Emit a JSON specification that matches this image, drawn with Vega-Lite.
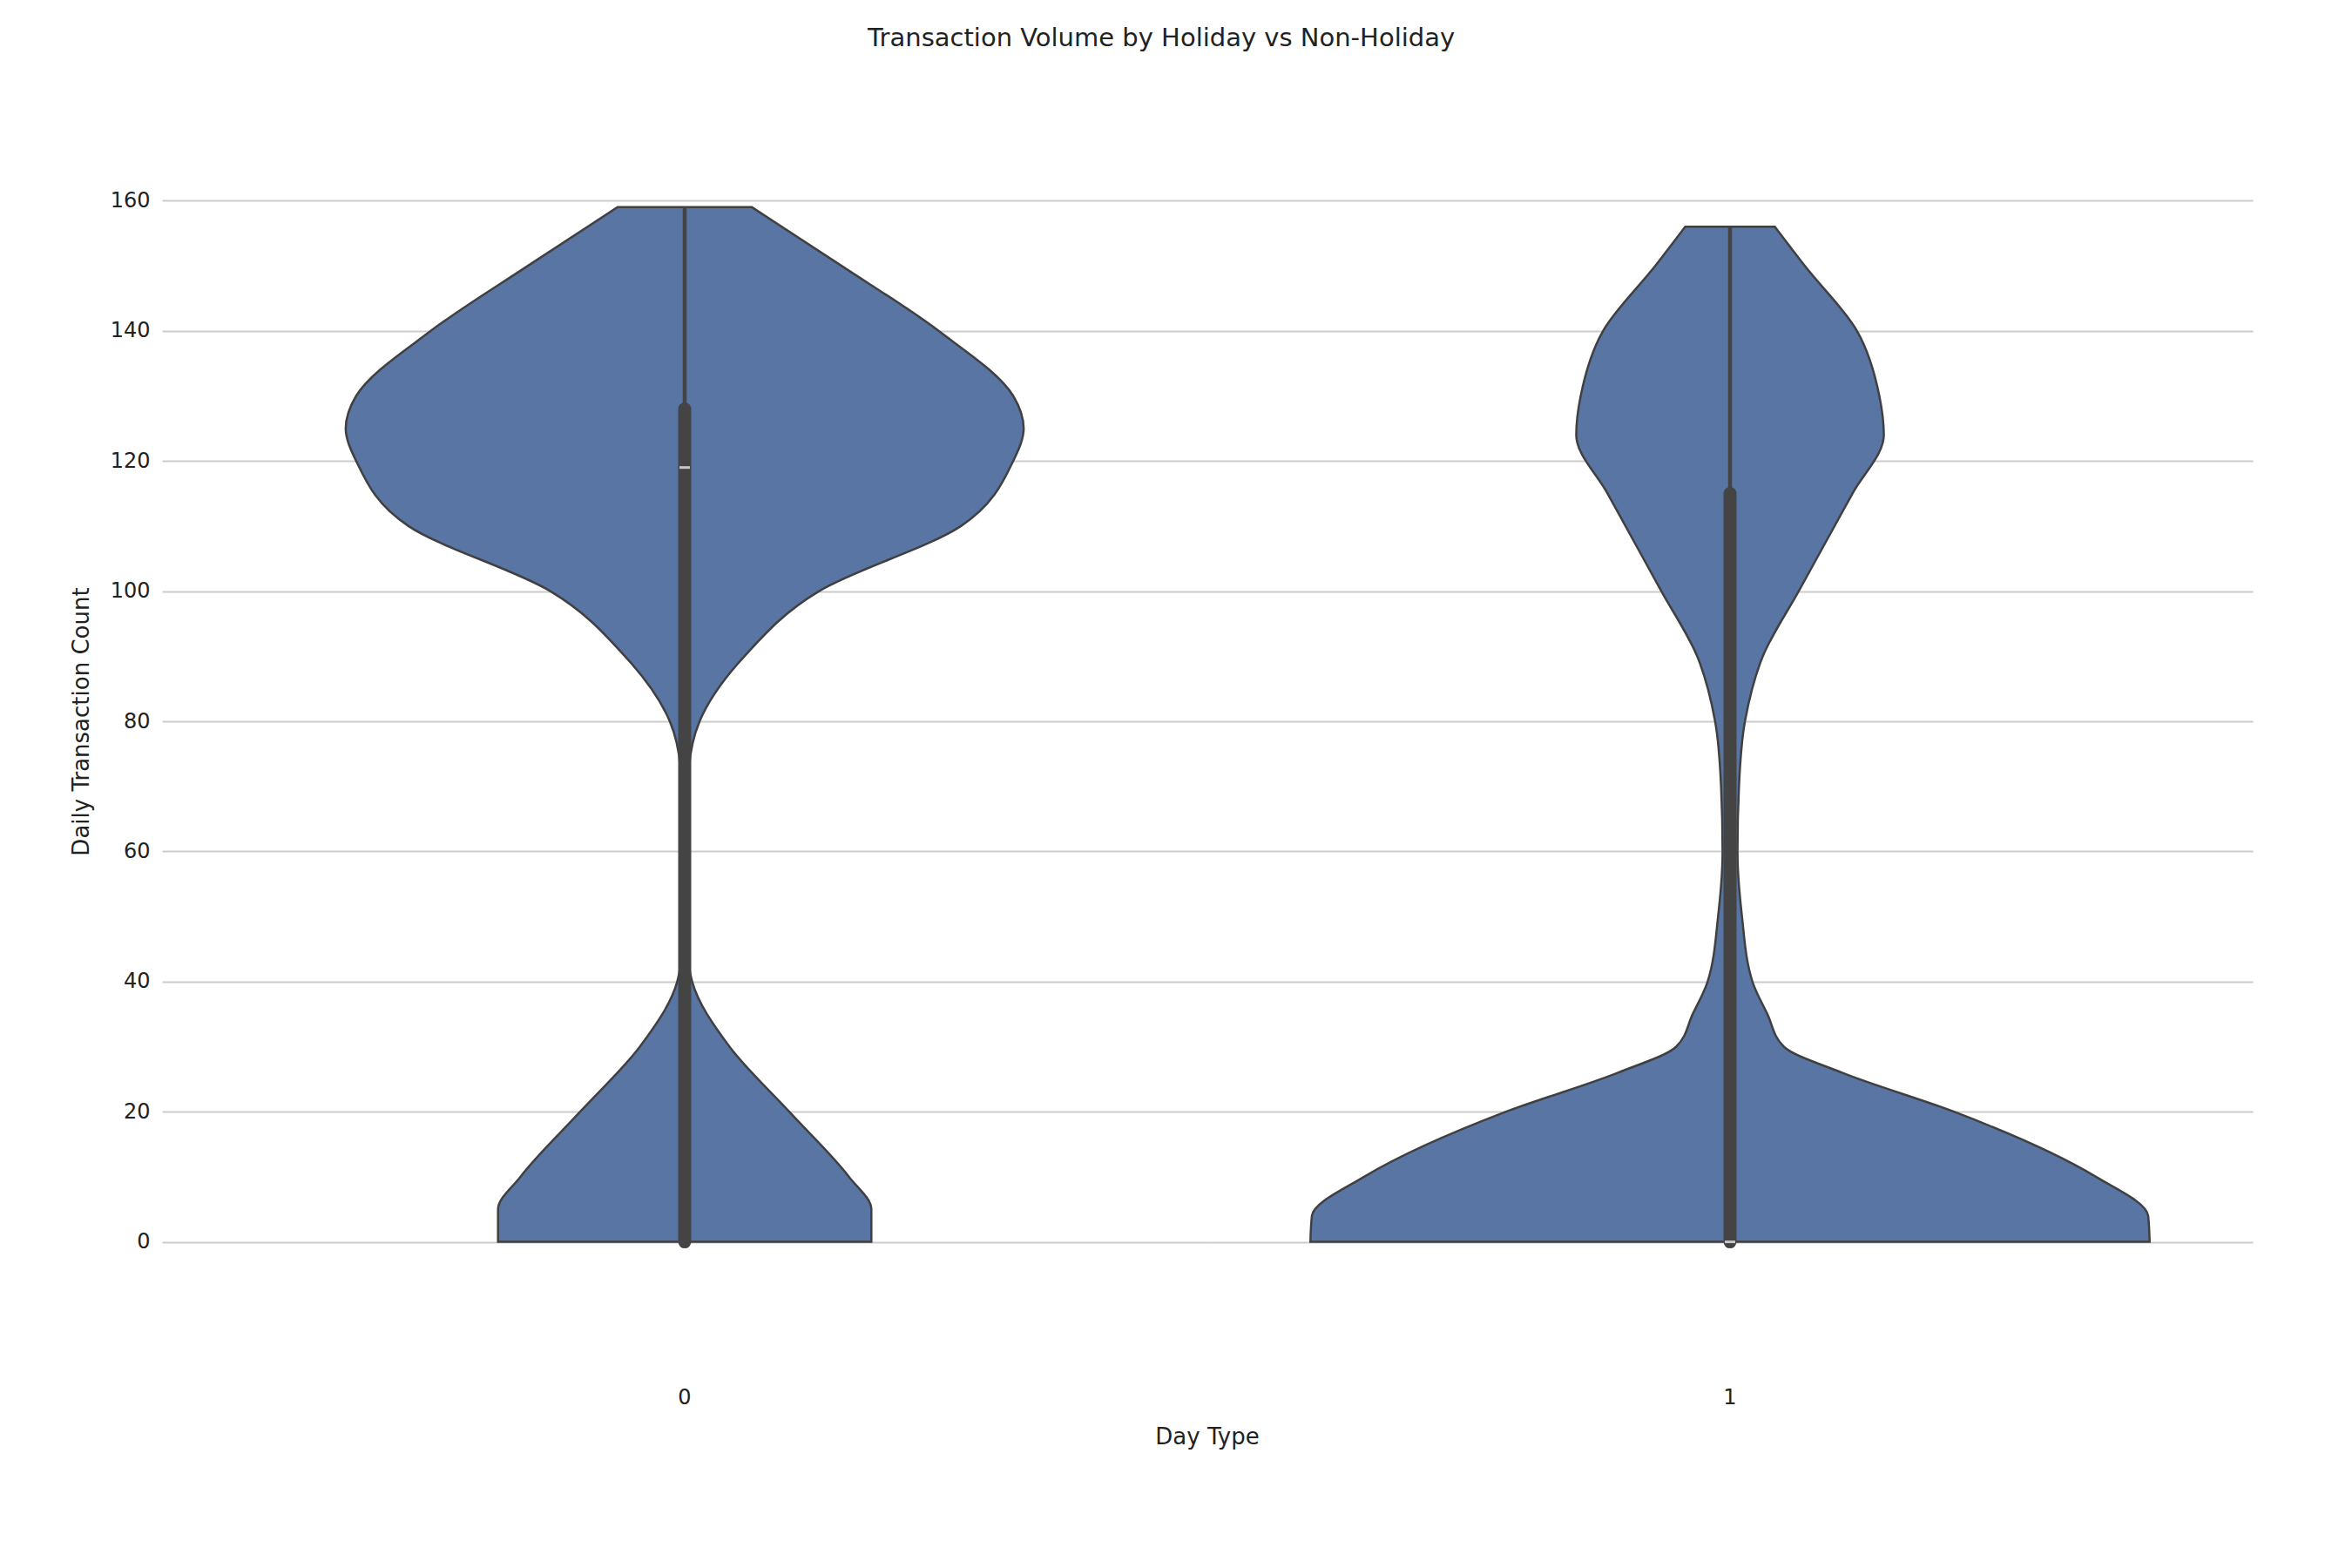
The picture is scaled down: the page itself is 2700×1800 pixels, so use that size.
{
  "$schema": "https://vega.github.io/schema/vega-lite/v6.json",
  "background": "white",
  "padding": {"left": 80, "top": 30, "right": 40, "bottom": 20},
  "title": {"text": "Transaction Volume by Holiday vs Non-Holiday", "fontSize": 29, "fontWeight": "normal", "font": "DejaVu Sans", "color": "#222222", "offset": 22, "anchor": "middle"},
  "data": {
    "values": [
      {"day": "0", "kind": "density", "value": 0, "h": 125},
      {"day": "0", "kind": "density", "value": 5, "h": 125},
      {"day": "0", "kind": "density", "value": 10, "h": 110},
      {"day": "0", "kind": "density", "value": 20, "h": 70},
      {"day": "0", "kind": "density", "value": 30, "h": 30},
      {"day": "0", "kind": "density", "value": 40, "h": 5},
      {"day": "0", "kind": "density", "value": 45, "h": 2},
      {"day": "0", "kind": "density", "value": 60, "h": 1},
      {"day": "0", "kind": "density", "value": 73, "h": 3},
      {"day": "0", "kind": "density", "value": 80, "h": 10},
      {"day": "0", "kind": "density", "value": 90, "h": 40},
      {"day": "0", "kind": "density", "value": 100, "h": 90},
      {"day": "0", "kind": "density", "value": 110, "h": 185},
      {"day": "0", "kind": "density", "value": 120, "h": 220},
      {"day": "0", "kind": "density", "value": 125, "h": 227},
      {"day": "0", "kind": "density", "value": 130, "h": 220},
      {"day": "0", "kind": "density", "value": 140, "h": 170},
      {"day": "0", "kind": "density", "value": 150, "h": 105},
      {"day": "0", "kind": "density", "value": 159, "h": 45},
      {"day": "1", "kind": "density", "value": 0, "h": 281},
      {"day": "1", "kind": "density", "value": 4, "h": 280},
      {"day": "1", "kind": "density", "value": 10, "h": 245},
      {"day": "1", "kind": "density", "value": 20, "h": 150},
      {"day": "1", "kind": "density", "value": 26, "h": 75},
      {"day": "1", "kind": "density", "value": 30, "h": 36},
      {"day": "1", "kind": "density", "value": 35, "h": 25},
      {"day": "1", "kind": "density", "value": 40, "h": 15},
      {"day": "1", "kind": "density", "value": 50, "h": 8},
      {"day": "1", "kind": "density", "value": 60, "h": 5},
      {"day": "1", "kind": "density", "value": 70, "h": 6},
      {"day": "1", "kind": "density", "value": 80, "h": 10},
      {"day": "1", "kind": "density", "value": 90, "h": 22},
      {"day": "1", "kind": "density", "value": 100, "h": 46},
      {"day": "1", "kind": "density", "value": 110, "h": 70},
      {"day": "1", "kind": "density", "value": 115, "h": 82},
      {"day": "1", "kind": "density", "value": 124, "h": 103},
      {"day": "1", "kind": "density", "value": 130, "h": 100},
      {"day": "1", "kind": "density", "value": 140, "h": 85},
      {"day": "1", "kind": "density", "value": 150, "h": 50},
      {"day": "1", "kind": "density", "value": 156, "h": 30},
      {"day": "0", "kind": "box", "min": 0, "q1": 0, "median": 119, "q3": 128, "max": 159},
      {"day": "1", "kind": "box", "min": 0, "q1": 0, "median": 0, "q3": 115, "max": 156}
    ]
  },
  "facet": {
    "column": {
      "field": "day", "type": "nominal",
      "header": {"title": "Day Type", "titleOrient": "bottom", "labelOrient": "bottom", "titleFontSize": 26, "titleFontWeight": "normal", "labelFontSize": 24, "titleFont": "DejaVu Sans", "labelFont": "DejaVu Sans", "labelPadding": 18, "titlePadding": 10, "titleColor": "#222222", "labelColor": "#222222"}
    }
  },
  "spacing": 0,
  "spec": {
    "width": 1200,
    "height": 1494,
    "layer": [
      {
        "transform": [{"filter": "datum.kind === 'density'"}, {"calculate": "-datum.h", "as": "neg"}],
        "mark": {"type": "area", "orient": "horizontal", "fill": "#5975a4", "stroke": "#404040", "strokeWidth": 2.5, "interpolate": "monotone", "clip": true},
        "encoding": {
          "y": {"field": "value", "type": "quantitative", "scale": {"domain": [-8, 167]},
            "axis": {"title": "Daily Transaction Count", "values": [0, 20, 40, 60, 80, 100, 120, 140, 160], "grid": true, "gridColor": "#cccccc", "gridWidth": 2, "domain": false, "ticks": false, "labelFontSize": 24, "titleFontSize": 26, "titleFontWeight": "normal", "labelFont": "DejaVu Sans", "titleFont": "DejaVu Sans", "labelPadding": 14, "titlePadding": 20, "labelColor": "#222222", "titleColor": "#222222"}},
          "x": {"field": "neg", "type": "quantitative", "scale": {"domain": [-350, 350]}, "axis": null},
          "x2": {"field": "h"}
        }
      },
      {
        "transform": [{"filter": "datum.kind === 'box'"}],
        "mark": {"type": "rule", "color": "#444444", "strokeWidth": 4.5},
        "encoding": {
          "x": {"datum": 0, "type": "quantitative"},
          "y": {"field": "min", "type": "quantitative"},
          "y2": {"field": "max"}
        }
      },
      {
        "transform": [{"filter": "datum.kind === 'box'"}],
        "mark": {"type": "rule", "color": "#444444", "strokeWidth": 15, "strokeCap": "round"},
        "encoding": {
          "x": {"datum": 0, "type": "quantitative"},
          "y": {"field": "q1", "type": "quantitative"},
          "y2": {"field": "q3"}
        }
      },
      {
        "transform": [{"filter": "datum.kind === 'box'"}],
        "mark": {"type": "tick", "color": "white", "orient": "horizontal", "size": 12, "thickness": 3},
        "encoding": {
          "x": {"datum": 0, "type": "quantitative"},
          "y": {"field": "median", "type": "quantitative"}
        }
      }
    ]
  },
  "config": {"view": {"stroke": null}}
}
